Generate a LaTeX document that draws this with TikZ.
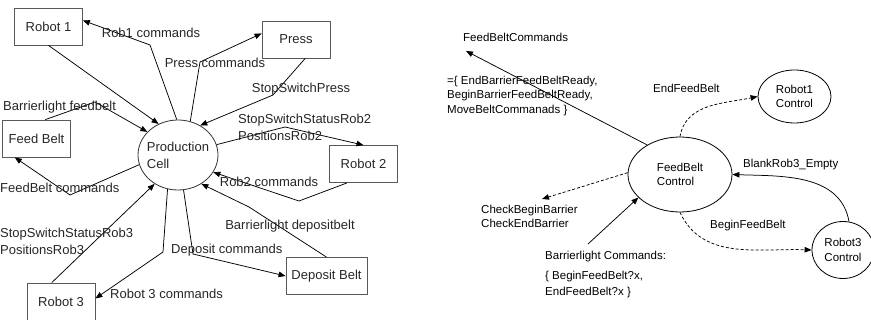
\documentclass[tikz,border=0pt]{standalone}
\usepackage{fontspec}
\setmainfont{Liberation Sans}
\usetikzlibrary{arrows.meta, shapes.geometric, positioning}

\begin{document}
\begin{tikzpicture}[
    x=1pt, y=-1pt,
    font=\fontsize{13}{17}\selectfont,
    box/.style={rectangle, draw=black!65, line width=0.8pt,
                minimum width=68pt, minimum height=37pt, inner sep=0pt, text=black!85},
    cell/.style={ellipse, draw=black!80, line width=0.8pt, align=left,
                 minimum width=80pt, minimum height=70pt, inner xsep=-5pt, inner ysep=0pt, text=black!85},
    ctrl/.style={ellipse, draw=black, line width=0.8pt, align=left, inner sep=0pt,
                 font=\fontsize{11.5}{14.5}\selectfont},
    lbl/.style={inner sep=1pt, align=left, text=black!85},
    rlbl/.style={inner sep=0pt, align=left, font=\fontsize{11.5}{14.5}\selectfont},
    arr/.style={-{Triangle[length=7pt, width=5.5pt]}, line width=0.75pt},
    dsh/.style={arr, dash pattern=on 3pt off 2pt}
  ]
    \useasboundingbox (0,0) rectangle (871,320);

    % Production cell and its devices
    \node[cell] (cell) at (178,155) {Production\\Cell};
    \node[box] (rob1)  at (48.5,26.5)  {Robot 1};
    \node[box] (press) at (296,39.5)   {Press};
    \node[box] (feed)  at (36.5,138.5) {Feed Belt};
    \node[box] (rob2)  at (363.5,164)  {Robot 2};
    \node[box, minimum width=81pt] (depo) at (326.5,276) {Deposit Belt};
    \node[box] (rob3)  at (61,301.5)   {Robot 3};

    \draw[arr] (rob1.south) -- (cell.122);
    \draw[arr] (cell.92) -- (150,45) -- (rob1.10);
    \draw[arr] (cell.70) -- (200,62) -- (press.170);
    \draw[arr] (press.-64) -- (273,95) -- (cell.53);
    \draw[arr] (cell.15) -- (285,127) -- (rob2.north);
    \draw[arr] (rob2.-131) -- (299,201) -- (cell.-26);
    \draw[arr] (depo.north) -- (249,207) -- (cell.-51);
    \draw[arr] (cell.-81) -- (193,254) -- (depo.west);
    \draw[arr] (cell.-107) -- (163,252) -- (rob3.5);
    \draw[arr] (rob3.116) -- (cell.-129);
    \draw[arr] (cell.-166) -- (70,195) -- (feed.-139);
    \draw[arr] (feed.65) -- (95,102) -- (cell.143);

    \node[lbl] (l1) at (151,33) {Rob1 commands};
    \node[lbl] (l2) at (215,63) {Press commands};
    \node[lbl] (l3) at (301,89) {StopSwitchPress};
    \node[lbl, anchor=west] (l4) at (237,127) {StopSwitchStatusRob2\\PositionsRob2};
    \node[lbl] (l5) at (269,182) {Rob2 commands};
    \node[lbl] (l6) at (290,226) {Barrierlight depositbelt};
    \node[lbl, anchor=west] (l7) at (170,250) {Deposit commands};
    \node[lbl, anchor=west] (l8) at (109,294) {Robot 3 commands};
    \node[lbl, anchor=west] (l9) at (-1,241) {StopSwitchStatusRob3\\PositionsRob3};
    \node[lbl, anchor=west] (l10) at (-1,188) {FeedBelt commands};
    \node[lbl, anchor=west] (l11) at (2,107) {Barrierlight feedbelt};

    % FeedBelt control
    \node[ctrl, minimum width=104pt, minimum height=75pt] (fbc) at (680,174.5) {FeedBelt\\Control};
    \node[ctrl, minimum width=73pt, minimum height=53pt] (r1c) at (794.5,96.5) {Robot1\\Control};
    \node[ctrl, minimum width=62pt, minimum height=57pt] (r3c) at (843,250) {Robot3\\Control};

    \coordinate (fbtip) at (466,51);
    \coordinate (chktip) at (542,199);
    \coordinate (blfoot) at (588,244);

    \draw[arr] (fbc.138) -- (fbtip);
    \draw[dsh] (fbc.north) to[out=80, in=192] (r1c.west);
    \draw[arr] (r3c.78) to[out=100, in=-2] (fbc.east);
    \draw[dsh] (fbc.south) to[out=-65, in=178] (r3c.west);
    \draw[dsh] (fbc.178) -- (chktip);
    \draw[arr] (blfoot) -- (fbc.-151);

    \node[rlbl, anchor=west] (fbcmd) at (463,37) {FeedBeltCommands};
    \node[rlbl, anchor=west] (fbset) at (447,96) {=\{ EndBarrierFeedBeltReady,\\BeginBarrierFeedBeltReady,\\MoveBeltCommanads \}};
    \node[rlbl, anchor=west] (endfb) at (653,88) {EndFeedBelt};
    \node[rlbl, anchor=west] (blank) at (743,165) {BlankRob3\_Empty};
    \node[rlbl, anchor=west] (begfb) at (710,226) {BeginFeedBelt};
    \node[rlbl, anchor=west] (chk) at (481,216.5) {CheckBeginBarrier\\CheckEndBarrier};
    \node[rlbl, anchor=west] (blcmd) at (545,257) {Barrierlight Commands:};
    \node[rlbl, anchor=west, font=\fontsize{11.5}{16}\selectfont] (blset) at (545,285) {\{ BeginFeedBelt?x,\\EndFeedBelt?x \}};
  \end{tikzpicture}
\end{document}
